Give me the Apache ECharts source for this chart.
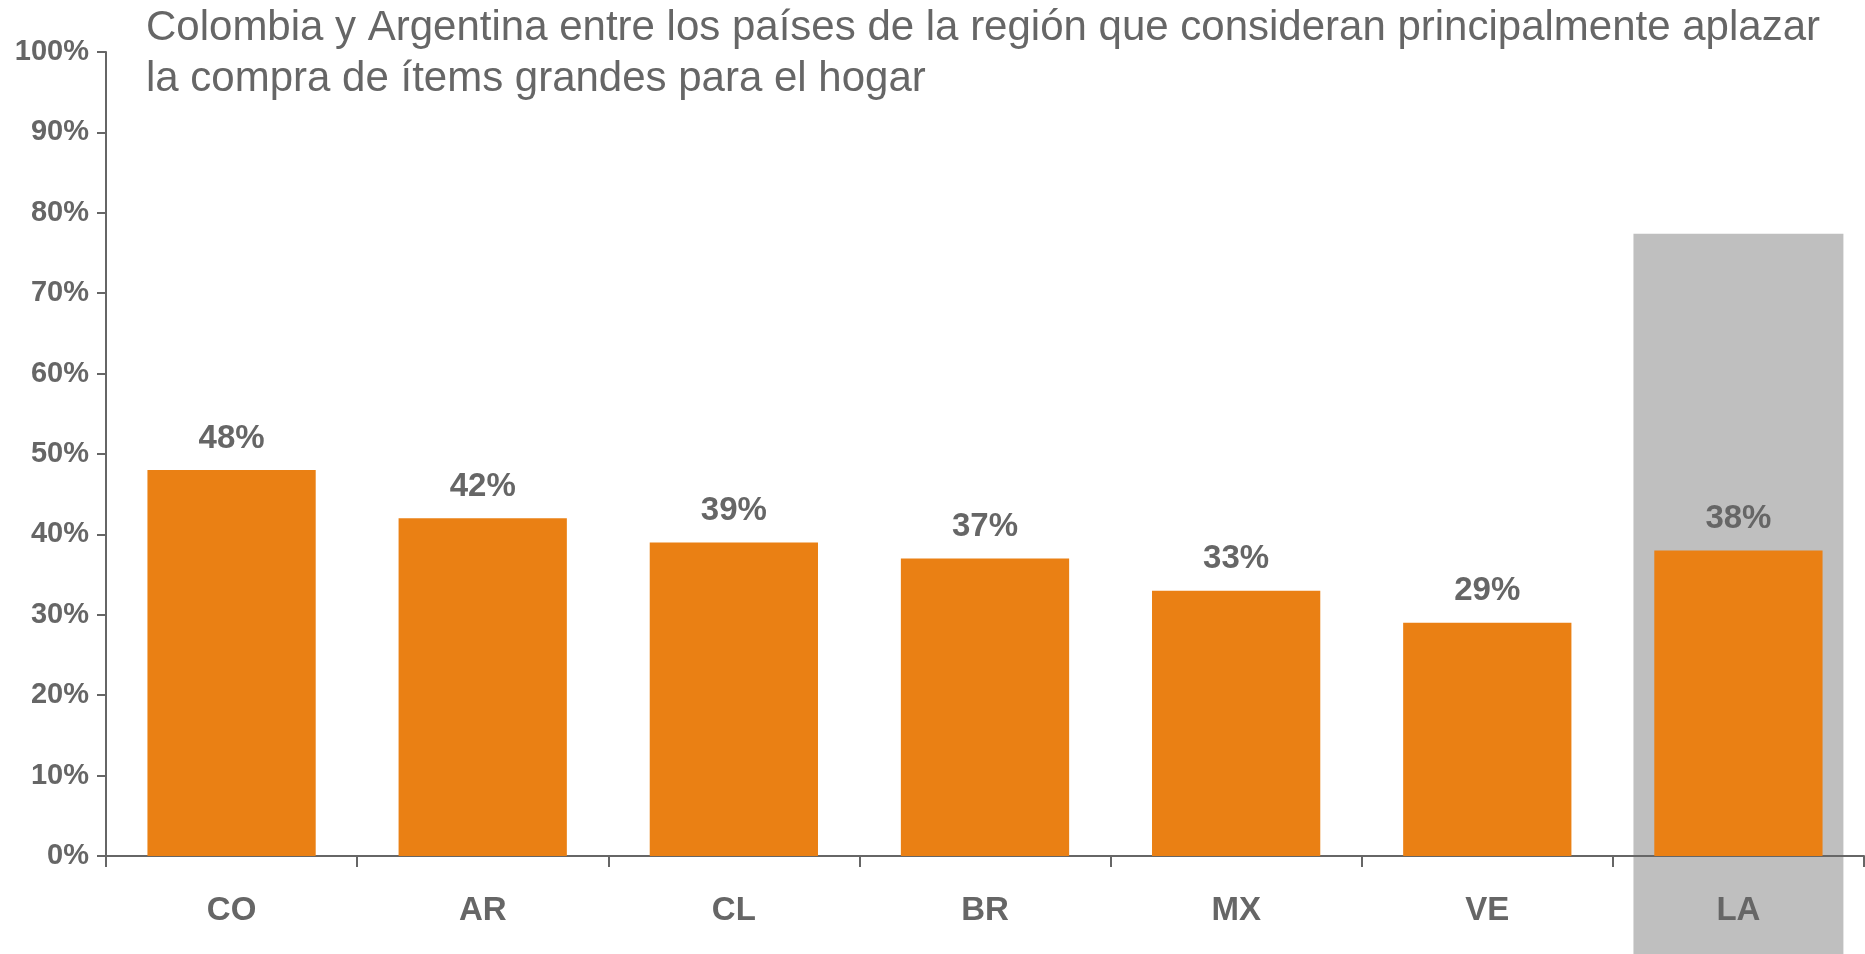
<!DOCTYPE html>
<html>
<head>
<meta charset="utf-8">
<script src="https://cdn.jsdelivr.net/npm/echarts@6/dist/echarts.min.js"></script>
<style>
  html, body { margin: 0; padding: 0; background: #fff; }
  #chart { width: 1865px; height: 954px; }
</style>
</head>
<body>
<div id="chart"></div>
<script>
// categorías y valores (%)
const categories = ['CO', 'AR', 'CL', 'BR', 'MX', 'VE', 'LA'];
const values = [48, 42, 39, 37, 33, 29, 38];
// resaltado gris detrás de LA
const highlightCategory = ['LA'];
const highlightTop = [77.4];

const textGray = '#666666';
const chart = echarts.init(document.getElementById('chart'));

const option = {
    animation: false,
    title: {
        text: 'Colombia y Argentina entre los países de la región que consideran principalmente aplazar\nla compra de ítems grandes para el hogar',
        left: 141,
        top: -2,
        textStyle: {
            color: textGray,
            fontFamily: 'Liberation Sans, Arial, sans-serif',
            fontWeight: 'normal',
            fontSize: 42,
            lineHeight: 51
        }
    },
    grid: { left: 106, right: 1, top: 52, bottom: 98, containLabel: false },
    xAxis: {
        type: 'category',
        data: categories,
        axisLine: { lineStyle: { color: textGray, width: 2 } },
        axisTick: { show: true, length: 11, lineStyle: { color: textGray, width: 2 } },
        axisLabel: {
            color: textGray,
            fontFamily: 'Liberation Sans, Arial, sans-serif',
            fontWeight: 'bold',
            fontSize: 33,
            margin: 38
        }
    },
    yAxis: {
        type: 'value',
        min: 0,
        max: 100,
        interval: 10,
        splitLine: { show: false },
        axisLine: { show: true, lineStyle: { color: textGray, width: 2 } },
        axisTick: { show: true, length: 9, lineStyle: { color: textGray, width: 2 } },
        axisLabel: {
            formatter: '{value}%',
            color: textGray,
            fontFamily: 'Liberation Sans, Arial, sans-serif',
            fontWeight: 'bold',
            fontSize: 29,
            margin: 17
        }
    },
    series: [
        {
            type: 'bar',
            data: values,
            barCategoryGap: '33%',
            itemStyle: { color: '#EA8014' },
            label: {
                show: true,
                position: 'top',
                distance: 15,
                formatter: '{c}%',
                color: textGray,
                fontFamily: 'Liberation Sans, Arial, sans-serif',
                fontWeight: 'bold',
                fontSize: 33
            }
        }
    ]
};
chart.setOption(option);

// rectángulo gris calculado desde las escalas
function drawHighlight() {
    const idx = categories.indexOf(highlightCategory[0]);
    const cx = chart.convertToPixel({ xAxisIndex: 0 }, categories[idx]);
    const band = chart.convertToPixel({ xAxisIndex: 0 }, categories[1]) - chart.convertToPixel({ xAxisIndex: 0 }, categories[0]);
    const top = chart.convertToPixel({ yAxisIndex: 0 }, highlightTop[0]);
    const w = band * 0.836;
    chart.setOption({
        graphic: [{
            type: 'rect',
            z: -1,
            shape: { x: cx - w / 2, y: top, width: w, height: chart.getHeight() - top },
            style: { fill: '#BFBFBF' }
        }]
    });
}
drawHighlight();
</script>
</body>
</html>
